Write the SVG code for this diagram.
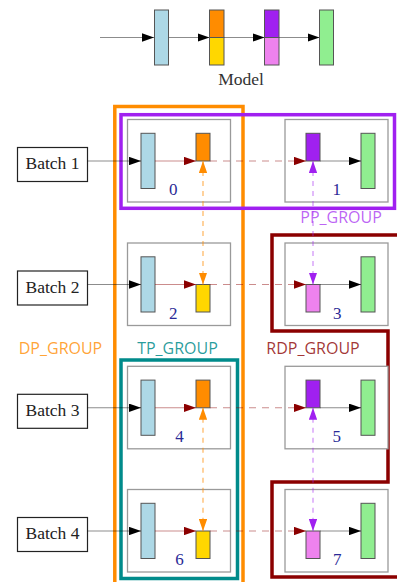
<svg xmlns="http://www.w3.org/2000/svg" width="397" height="582" viewBox="0 0 397 582">
<defs>
<style>
.serif{font-family:"Liberation Serif","Times New Roman",serif;}
.lbl{font-family:"Open Sans","DejaVu Sans",sans-serif;font-size:16px;text-anchor:middle;}
.nb{fill:#fff;stroke:#9a9a9a;stroke-width:1.3;}
.ly{stroke:#555;stroke-width:1;}
.bt{fill:#fff;stroke:#222;stroke-width:1.2;}
.num{font-family:"Liberation Serif",serif;font-size:17px;fill:#2a2a96;text-anchor:middle;}
.bl{stroke:#000;stroke-opacity:0.45;stroke-width:1.1;fill:none;marker-end:url(#ak);}
.rl{stroke:#8b0000;stroke-opacity:0.45;stroke-width:1.1;fill:none;marker-end:url(#ar);}
.rd{stroke:#8b0000;stroke-opacity:0.45;stroke-width:1.1;fill:none;stroke-dasharray:7 6;marker-end:url(#ar);}
.od{stroke:#ff8c00;stroke-opacity:0.7;stroke-width:1.1;fill:none;stroke-dasharray:5 5;marker-start:url(#ao);marker-end:url(#ao);}
.pd{stroke:#a020f0;stroke-opacity:0.55;stroke-width:1.1;fill:none;stroke-dasharray:5 5;marker-start:url(#ap);marker-end:url(#ap);}
.grp{fill:none;stroke-width:3.5;}
</style>
<marker id="ak" viewBox="0 0 12 8.4" refX="12" refY="4.2" markerWidth="12" markerHeight="8.4" markerUnits="userSpaceOnUse" orient="auto-start-reverse"><path d="M0,0 L12,4.2 L0,8.4 Z" fill="#000"/></marker>
<marker id="ar" viewBox="0 0 12 8.4" refX="12" refY="4.2" markerWidth="12" markerHeight="8.4" markerUnits="userSpaceOnUse" orient="auto-start-reverse"><path d="M0,0 L12,4.2 L0,8.4 Z" fill="#8b0000"/></marker>
<marker id="ao" viewBox="0 0 12 8.4" refX="12" refY="4.2" markerWidth="12" markerHeight="8.4" markerUnits="userSpaceOnUse" orient="auto-start-reverse"><path d="M0,0 L12,4.2 L0,8.4 Z" fill="#ff8c00"/></marker>
<marker id="ap" viewBox="0 0 12 8.4" refX="12" refY="4.2" markerWidth="12" markerHeight="8.4" markerUnits="userSpaceOnUse" orient="auto-start-reverse"><path d="M0,0 L12,4.2 L0,8.4 Z" fill="#a020f0"/></marker>
</defs>
<rect width="397" height="582" fill="#fff"/>

<g id="model">
<line x1="100" y1="37.5" x2="154" y2="37.5" class="bl"/>
<line x1="168.5" y1="37.5" x2="209.5" y2="37.5" class="bl"/>
<line x1="224" y1="37.5" x2="264.5" y2="37.5" class="bl"/>
<line x1="279" y1="37.5" x2="319.5" y2="37.5" class="bl"/>
<rect x="154.5" y="10" width="14" height="55" fill="#add8e6" class="ly"/>
<rect x="209.5" y="10" width="14.5" height="27.5" fill="#ff8c00" class="ly"/>
<rect x="209.5" y="37.5" width="14.5" height="27.5" fill="#ffd700" class="ly"/>
<rect x="264.5" y="10" width="14.5" height="27.5" fill="#a020f0" class="ly"/>
<rect x="264.5" y="37.5" width="14.5" height="27.5" fill="#ee82ee" class="ly"/>
<rect x="319.5" y="10" width="14" height="55" fill="#90ee90" class="ly"/>
<text x="241" y="85" class="serif" font-size="17.5" text-anchor="middle" fill="#333">Model</text>
</g>

<g id="groups">
<rect id="dp_group" x="114.8" y="106.5" width="128.2" height="490" class="grp" stroke="#ff8c00"/>
<rect id="pp_group" x="121" y="114.7" width="273.5" height="93.6" class="grp" stroke="#a020f0"/>
<rect id="tp_group" x="121" y="360" width="116.5" height="218.5" class="grp" stroke="#008b8b"/>
<path id="rdp_group" d="M420,235 H272 V331 H388 V482 H272 V577 H420" class="grp" stroke="#8b0000"/>
<text x="60.5" y="353.5" class="lbl" fill="#ff8c00" fill-opacity="0.8">DP_GROUP</text>
<text x="177.5" y="353.5" class="lbl" fill="#008b8b" fill-opacity="0.85">TP_GROUP</text>
<text x="313" y="353.5" class="lbl" fill="#8b0000" fill-opacity="0.8">RDP_GROUP</text>
<text x="341" y="223" class="lbl" fill="#a020f0" fill-opacity="0.7">PP_GROUP</text>
</g>

<g id="batch1"><rect x="17.5" y="147.5" width="70" height="34" class="bt"/><text x="52.5" y="169" class="serif" font-size="17.5" text-anchor="middle" fill="#222">Batch 1</text></g>
<g id="batch2"><rect x="17.5" y="271" width="70" height="34" class="bt"/><text x="52.5" y="292.5" class="serif" font-size="17.5" text-anchor="middle" fill="#222">Batch 2</text></g>
<g id="batch3"><rect x="17.5" y="394.3" width="70" height="34" class="bt"/><text x="52.5" y="415.8" class="serif" font-size="17.5" text-anchor="middle" fill="#222">Batch 3</text></g>
<g id="batch4"><rect x="17.5" y="517.5" width="70" height="34" class="bt"/><text x="52.5" y="539" class="serif" font-size="17.5" text-anchor="middle" fill="#222">Batch 4</text></g>

<g id="node0"><rect x="127.5" y="119.5" width="103" height="82.5" class="nb"/><rect x="141" y="133.3" width="14" height="55.2" fill="#add8e6" class="ly"/><rect x="196" y="133.3" width="14" height="27.7" fill="#ff8c00" class="ly"/><text x="173.3" y="195" class="num">0</text></g>
<g id="node1"><rect x="285" y="119.5" width="103" height="82.5" class="nb"/><rect x="306" y="133.3" width="14" height="27.7" fill="#a020f0" class="ly"/><rect x="361" y="133.3" width="14" height="55.2" fill="#90ee90" class="ly"/><text x="336.7" y="195" class="num">1</text></g>
<g id="node2"><rect x="127.5" y="243" width="103" height="82.5" class="nb"/><rect x="141" y="256.8" width="14" height="55.2" fill="#add8e6" class="ly"/><rect x="196" y="284.5" width="14" height="27.5" fill="#ffd700" class="ly"/><text x="173.3" y="318.5" class="num">2</text></g>
<g id="node3"><rect x="285" y="243" width="103" height="82.5" class="nb"/><rect x="306" y="284.5" width="14" height="27.5" fill="#ee82ee" class="ly"/><rect x="361" y="256.8" width="14" height="55.2" fill="#90ee90" class="ly"/><text x="337.3" y="318.5" class="num">3</text></g>
<g id="node4"><rect x="127.5" y="366.3" width="103" height="82.5" class="nb"/><rect x="141" y="380.1" width="14" height="55.2" fill="#add8e6" class="ly"/><rect x="196" y="380.1" width="14" height="27.7" fill="#ff8c00" class="ly"/><text x="179.5" y="442.3" class="num">4</text></g>
<g id="node5"><rect x="285" y="366.3" width="103" height="82.5" class="nb"/><rect x="306" y="380.1" width="14" height="27.7" fill="#a020f0" class="ly"/><rect x="361" y="380.1" width="14" height="55.2" fill="#90ee90" class="ly"/><text x="336.7" y="442.3" class="num">5</text></g>
<g id="node6"><rect x="127.5" y="489.5" width="103" height="82.5" class="nb"/><rect x="141" y="503.3" width="14" height="55.2" fill="#add8e6" class="ly"/><rect x="196" y="531" width="14" height="27.5" fill="#ffd700" class="ly"/><text x="179.5" y="565" class="num">6</text></g>
<g id="node7"><rect x="285" y="489.5" width="103" height="82.5" class="nb"/><rect x="306" y="531" width="14" height="27.5" fill="#ee82ee" class="ly"/><rect x="361" y="503.3" width="14" height="55.2" fill="#90ee90" class="ly"/><text x="337.3" y="565" class="num">7</text></g>

<g id="connectors">
<line x1="87.5" y1="161" x2="141" y2="161" class="bl"/>
<line x1="155" y1="161" x2="196" y2="161" class="rl"/>
<line x1="210" y1="161" x2="306" y2="161" class="rd"/>
<line x1="320" y1="161" x2="361" y2="161" class="bl"/>
<line x1="87.5" y1="284.5" x2="141" y2="284.5" class="bl"/>
<line x1="155" y1="284.5" x2="196" y2="284.5" class="rl"/>
<line x1="210" y1="284.5" x2="306" y2="284.5" class="rd"/>
<line x1="320" y1="284.5" x2="361" y2="284.5" class="bl"/>
<line x1="87.5" y1="407.8" x2="141" y2="407.8" class="bl"/>
<line x1="155" y1="407.8" x2="196" y2="407.8" class="rl"/>
<line x1="210" y1="407.8" x2="306" y2="407.8" class="rd"/>
<line x1="320" y1="407.8" x2="361" y2="407.8" class="bl"/>
<line x1="87.5" y1="531" x2="141" y2="531" class="bl"/>
<line x1="155" y1="531" x2="196" y2="531" class="rl"/>
<line x1="210" y1="531" x2="306" y2="531" class="rd"/>
<line x1="320" y1="531" x2="361" y2="531" class="bl"/>
<line x1="203" y1="161" x2="203" y2="284.5" class="od"/>
<line x1="313" y1="161" x2="313" y2="284.5" class="pd"/>
<line x1="203" y1="407.8" x2="203" y2="531" class="od"/>
<line x1="313" y1="407.8" x2="313" y2="531" class="pd"/>
</g>
</svg>
